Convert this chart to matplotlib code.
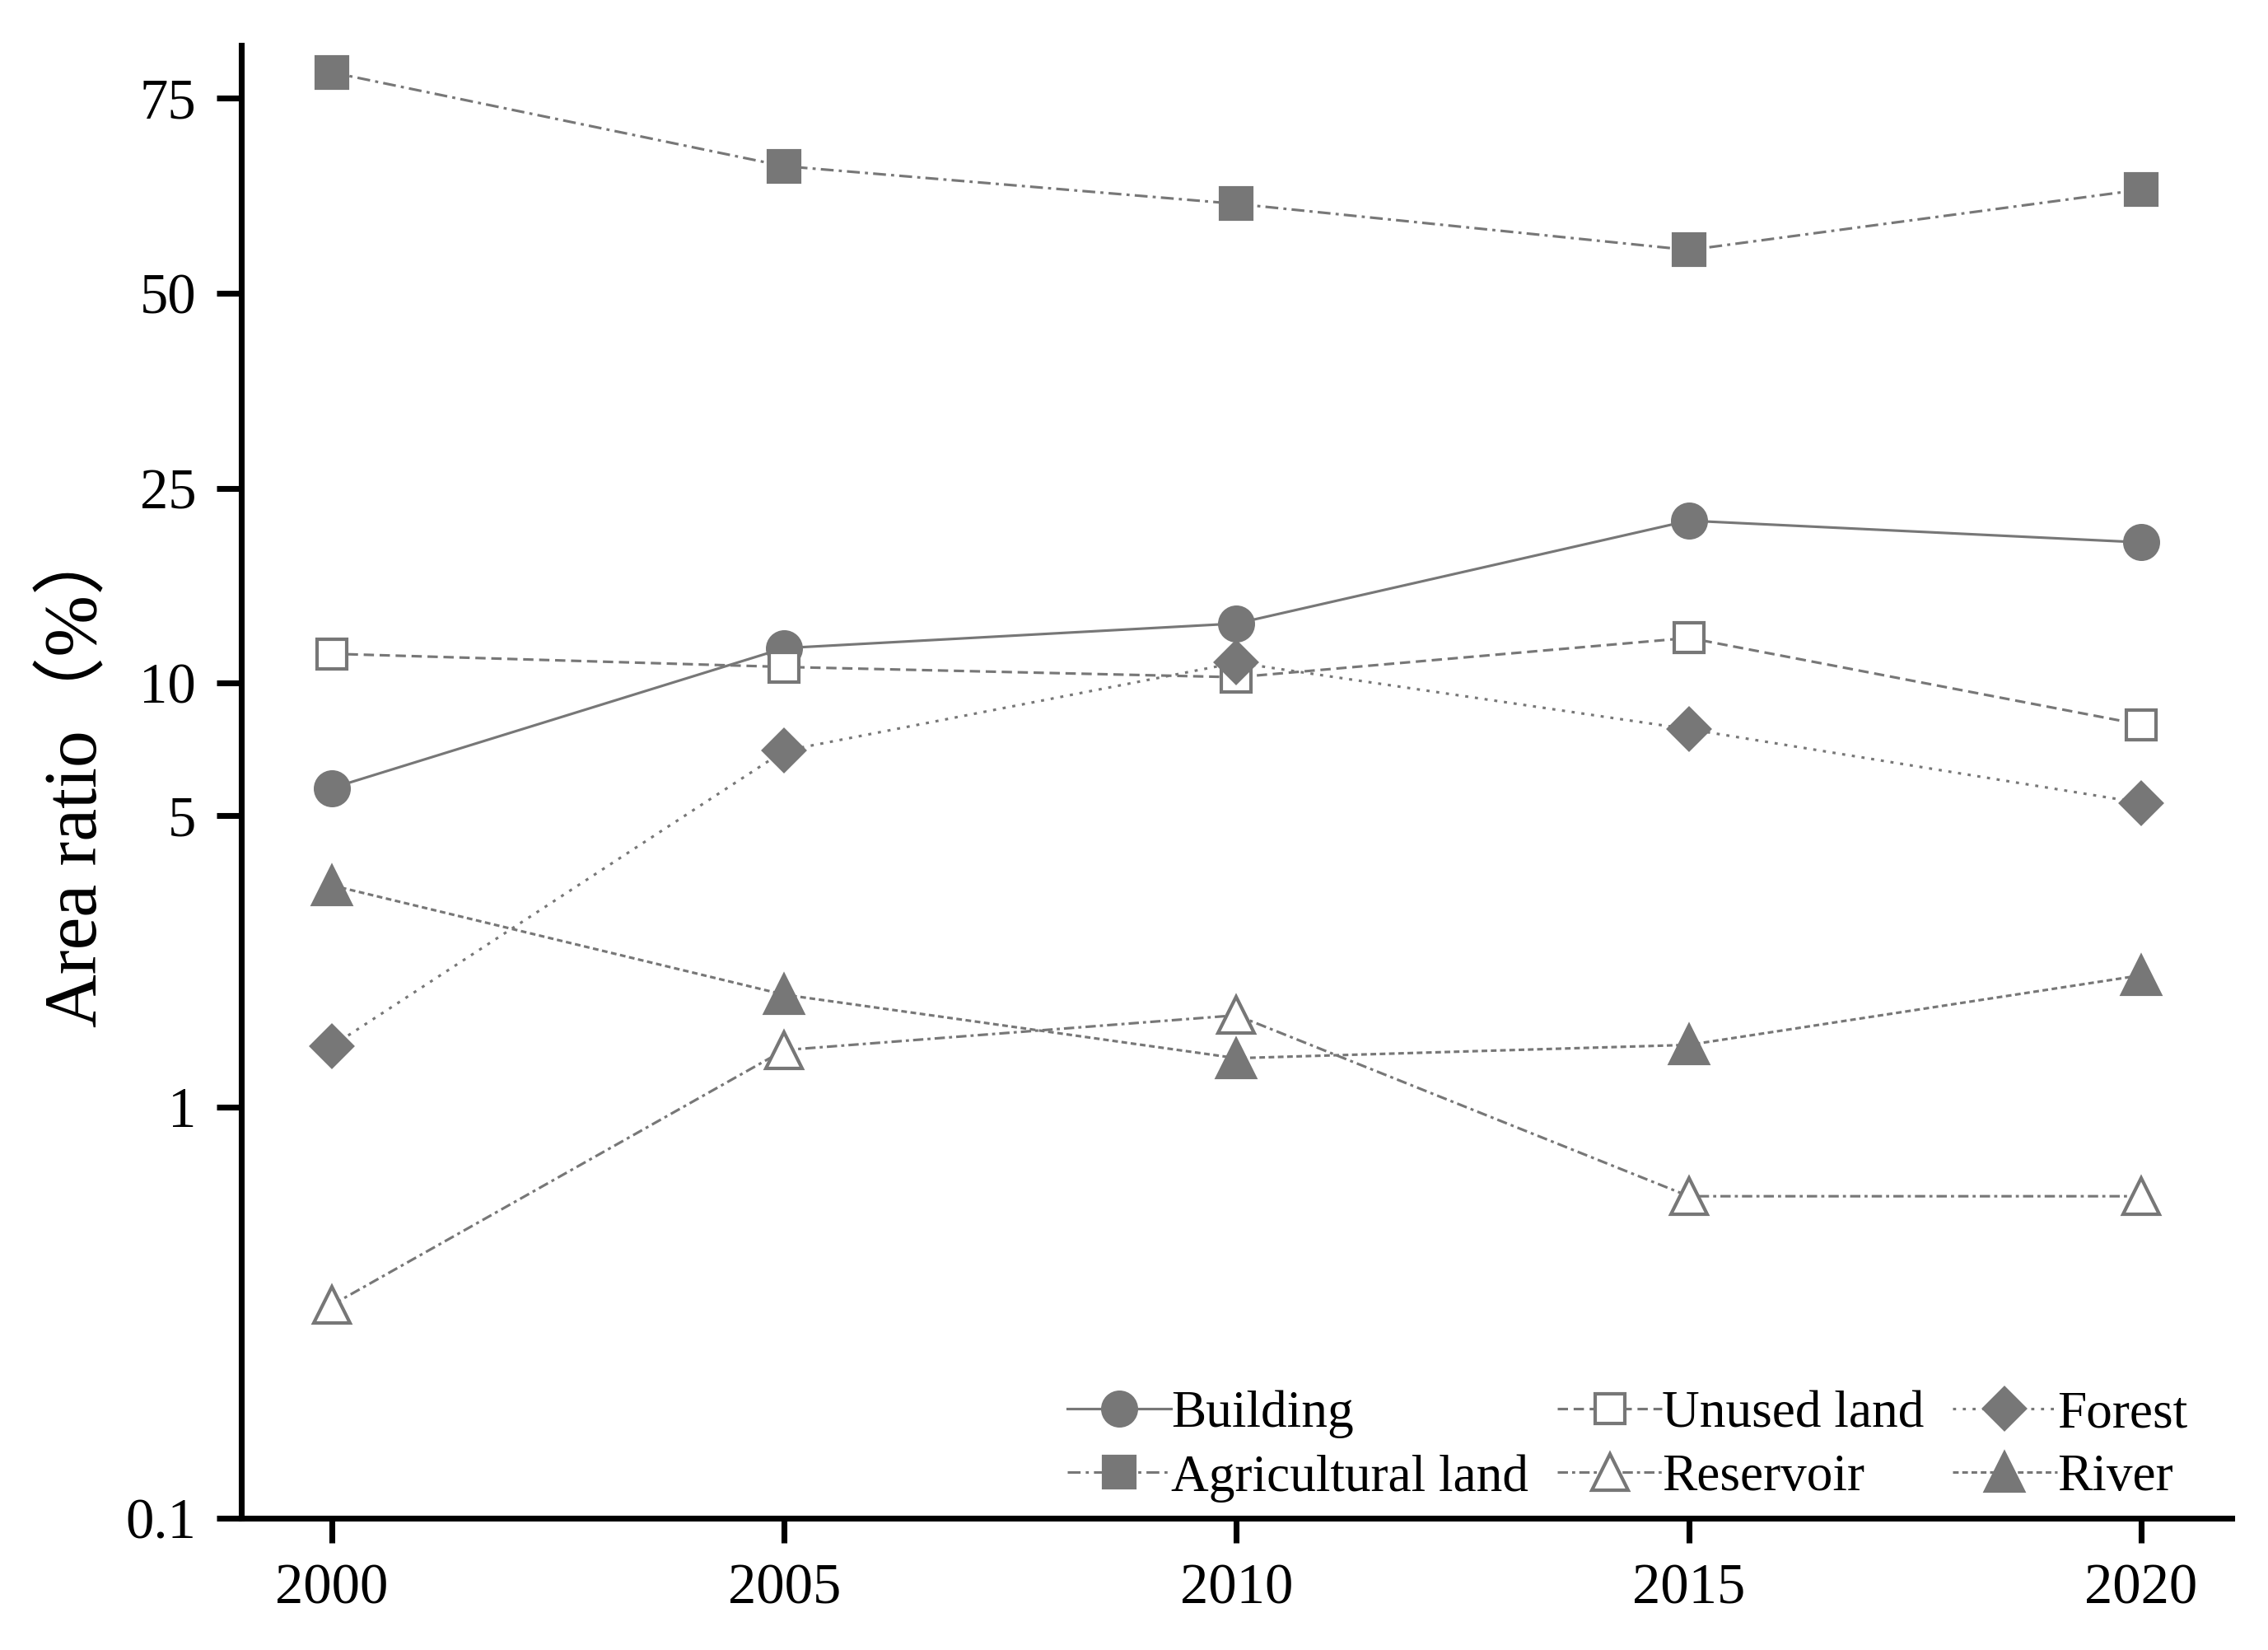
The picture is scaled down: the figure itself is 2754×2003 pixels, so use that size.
import matplotlib

matplotlib.use("Agg")
import matplotlib.pyplot as plt
import numpy as np

plt.rcParams["font.family"] = ["Liberation Serif", "Noto Sans CJK SC"]
plt.rcParams["axes.unicode_minus"] = False

# Data (area ratio, %)
years = [2000, 2005, 2010, 2015, 2020]
building = [5.77, 11.78, 13.23, 21.48, 19.39]
agricultural = [79.1, 65.1, 60.2, 54.7, 62.0]
unused = [11.47, 10.78, 10.27, 12.36, 8.04]
forest = [1.40, 7.01, 11.0, 7.85, 5.34]
reservoir = [0.33, 1.37, 1.66, 0.607, 0.607]
river = [3.40, 1.86, 1.31, 1.41, 2.07]

y_ticks = [0.1, 1, 5, 10, 25, 50, 75]
y_tick_labels = ["0.1", "1", "5", "10", "25", "50", "75"]

# The original y axis is a custom piecewise scale: roughly log below 10,
# evenly spaced ticks 10/25/50/75 above. Anchor values -> relative positions.
_scale_vals = np.log10([0.1, 1, 5, 10, 25, 50, 75, 100])
_scale_pos = np.array([0, 499, 853, 1014, 1250, 1487, 1724, 1892], dtype=float)


def _fwd(v):
    v = np.clip(np.asarray(v, dtype=float), 1e-4, None)
    return np.interp(np.log10(v), _scale_vals, _scale_pos)


def _inv(p):
    return 10 ** np.interp(np.asarray(p, dtype=float), _scale_pos, _scale_vals)


GREY = "#777777"
LW = 0.75

series = [
    ("Building", building, dict(ls="-", marker="o", ms=9.8, mfc=GREY)),
    ("Agricultural land", agricultural,
     dict(dashes=(5, 2, 1.2, 2), marker="s", ms=8.9, mfc=GREY)),
    ("Unused land", unused, dict(dashes=(4, 2.2), marker="s", ms=8.6, mfc="white")),
    ("Reservoir", reservoir,
     dict(dashes=(4, 1.6, 1.2, 1.6), marker="^", ms=10.5, mfc="white")),
    ("Forest", forest, dict(dashes=(1.2, 2.6), marker="D", ms=8.6, mfc=GREY)),
    ("River", river, dict(dashes=(2.2, 1.4), marker="^", ms=11, mfc=GREY)),
]

fig = plt.figure(figsize=(2754 / 300, 2003 / 300), dpi=300)
ax = fig.add_axes([0.1064, 0.0799, 0.8776, 0.8927])
ax.set_yscale("function", functions=(_fwd, _inv))

for name, vals, style in series:
    ax.plot(
        years,
        vals,
        color=GREY,
        lw=LW,
        mec=GREY,
        mew=1.0,
        label=name,
        **style,
    )

ax.set_xlim(1999, 2021)
ax.set_ylim(0.1, 83.7)
ax.set_xticks(years)
ax.set_yticks(y_ticks)
ax.set_yticklabels(y_tick_labels)
ax.yaxis.set_minor_locator(matplotlib.ticker.NullLocator())
ax.xaxis.set_minor_locator(matplotlib.ticker.NullLocator())

for side in ("top", "right"):
    ax.spines[side].set_visible(False)
for side in ("left", "bottom"):
    ax.spines[side].set_linewidth(1.7)

ax.tick_params(axis="both", direction="out", length=7.2, width=1.7,
               labelsize=16.5, pad=6)

ax.set_ylabel("Area ratio（%）", fontsize=21.5)
ax.yaxis.set_label_coords(-0.065, 0.505)

ax.legend(
    loc="lower right",
    bbox_to_anchor=(0.996, -0.014),
    ncols=3,
    frameon=False,
    fontsize=15.2,
    handlelength=2.0,
    handletextpad=0.0,
    columnspacing=0.55,
    labelspacing=0.3,
    borderpad=0.2,
)

fig.savefig("out.png", dpi=300)
plt.close(fig)
